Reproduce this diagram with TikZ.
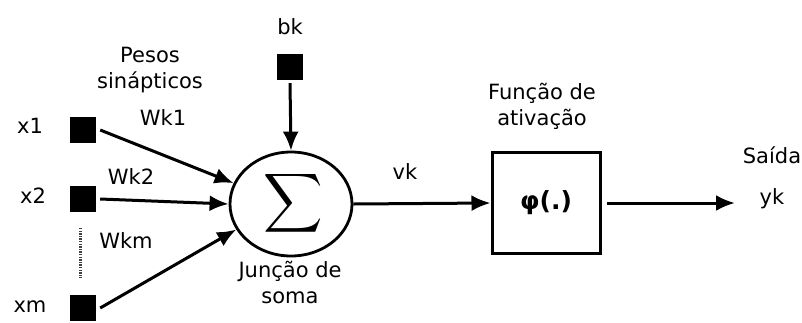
\documentclass[tikz,border=0pt]{standalone}
\usepackage{fontspec}
\setmainfont{DejaVu Sans}
\usetikzlibrary{arrows.meta,shapes.geometric}

\begin{document}
\begin{tikzpicture}[
  x=1pt, y=-1pt,
  font=\fontsize{21}{26}\selectfont,
  input/.style={rectangle, fill=black, minimum size=26pt, inner sep=0pt},
  label/.style={align=center, inner sep=0pt},
  summer/.style={ellipse, draw, line width=2.8pt, minimum width=122pt, minimum height=104pt, inner sep=0pt},
  activation/.style={rectangle, draw, line width=3pt, minimum width=108pt, minimum height=101pt},
  arrow/.style={-{Latex[length=19pt, width=16pt]}, line width=3pt},
  node distance=1cm
]
\useasboundingbox (0,0) rectangle (802,322);

% inputs
\node[input] (x1) at (83,130) {};
\node[input] (x2) at (83,199) {};
\node[input] (xm) at (83,308) {};
\node[input] (bk) at (290,67) {};
\node[label] (x1lab) at (30,126) {x1};
\node[label] (x2lab) at (33,196) {x2};
\node[label] (xmlab) at (30,307) {xm};
\node[label] (bklab) at (290,27) {bk};
\draw[line width=3pt, dash pattern=on 1.3pt off 1.3pt, gray!50!black] (80,228) -- (80,278);

% weights
\node[label] (pesos) at (150,70) {Pesos\\sinápticos};
\node[label] (wk1) at (163,118) {Wk1};
\node[label] (wk2) at (131,177) {Wk2};
\node[label] (wkm) at (126,241) {Wkm};

% summing junction
\node[summer] (sum) at (291,204) {};
\node (sigma) at (293,203) {\resizebox*{!}{66pt}{$\displaystyle\sum$}};
\node[label] (juncao) at (290,282) {Junção de\\soma};

% activation
\node[activation] (phi) at (546,203) {\fontsize{25}{30}\selectfont\bfseries φ(.)};
\node[label] (funcao) at (542,106) {Função de\\ativação};
\node[label] (vk) at (405,172) {vk};
\node[label] (saida) at (772,155) {Saída};
\node[label] (yk) at (772,199) {yk};
\coordinate (out) at (735,203);

\draw[arrow] ([xshift=4pt]x1.east) -- (sum.160);
\draw[arrow] ([xshift=4pt]x2.east) -- (sum.west);
\draw[arrow] ([xshift=4pt]xm.east) -- (sum.205);
\draw[arrow] ([yshift=-3pt]bk.south) -- (sum.north);
\draw[arrow] (sum.east) -- (phi.west);
\draw[arrow] ([xshift=5pt]phi.east) -- (out);
\end{tikzpicture}
\end{document}
